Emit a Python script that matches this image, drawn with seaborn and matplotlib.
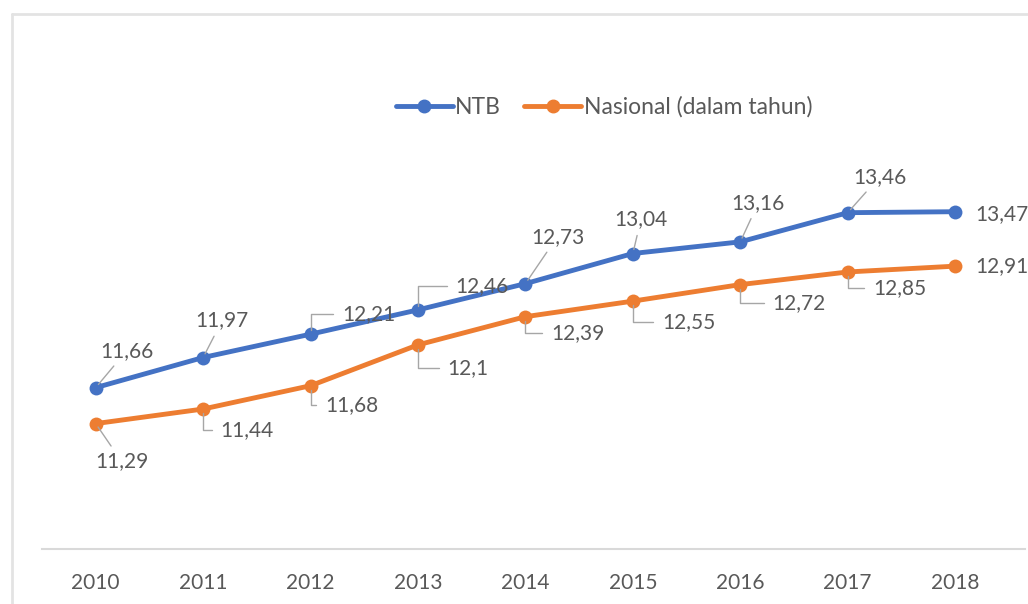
import pandas as pd
import numpy as np
import matplotlib.pyplot as plt
import seaborn as sns
from matplotlib.lines import Line2D

years = [2010, 2011, 2012, 2013, 2014, 2015, 2016, 2017, 2018]
ntb = [11.66, 11.97, 12.21, 12.46, 12.73, 13.04, 13.16, 13.46, 13.47]
nasional = [11.29, 11.44, 11.68, 12.1, 12.39, 12.55, 12.72, 12.85, 12.91]
series_names = ["NTB", "Nasional (dalam tahun)"]

df = pd.DataFrame({
    "Tahun": years * 2,
    "Nilai": ntb + nasional,
    "Seri": [series_names[0]] * len(years) + [series_names[1]] * len(years),
})

sns.set_style("white")
plt.rcParams["font.family"] = ["Lato", "DejaVu Sans"]

TXT = "#595959"
GRID = "#d9d9d9"
LEAD = "#a6a6a6"
palette = {series_names[0]: "#4472C4", series_names[1]: "#ED7D31"}

fig = plt.figure(figsize=(10.28, 6.04), dpi=100)
ax = fig.add_axes([42 / 1028, 0.0911, (1025 - 42) / 1028, 0.8046])

sns.lineplot(data=df, x="Tahun", y="Nilai", hue="Seri", palette=palette,
             marker="o", markersize=10, markeredgewidth=0, linewidth=3.5,
             ax=ax, legend=False)

ax.set_xlim(2009.5, 2018.65)
ax.set_ylim(10, 15)
ax.set_xticks(years)
ax.set_xticklabels([str(y) for y in years], color=TXT, fontsize=15)
ax.tick_params(axis="x", length=0, pad=17)
ax.set_yticks([])
ax.set_xlabel("")
ax.set_ylabel("")
for s in ["left", "right", "top"]:
    ax.spines[s].set_visible(False)
ax.spines["bottom"].set_color(GRID)
ax.spines["bottom"].set_linewidth(1.5)

# label offsets in pixels and leader style per point
ntb_off = [(31, 37), (19, 37), (58, 20), (64, 24), (32, 47), (8, 34), (18, 39), (32, 36), (47, -2)]
ntb_conn = ["arc3", "arc3", "angle", "angle", "arc3", "arc3", "arc3", "arc3", None]
nas_off = [(26, -38), (44, -21), (41, -19), (50, -23), (52, -16), (56, -21), (59, -18), (52, -16), (47, 0)]
nas_conn = ["arc3", "angle", "angle", "angle", "angle", "angle", "angle", "angle", None]


def fmt(v):
    return f"{v:g}".replace(".", ",")


for vals, offs, conns in [(ntb, ntb_off, ntb_conn), (nasional, nas_off, nas_conn)]:
    for x, v, off, conn in zip(years, vals, offs, conns):
        kw = {}
        if conn == "arc3":
            kw["arrowprops"] = dict(arrowstyle="-", color=LEAD, lw=1,
                                    shrinkA=2, shrinkB=3)
        elif conn == "angle":
            kw["arrowprops"] = dict(arrowstyle="-", color=LEAD, lw=1,
                                    shrinkA=4, shrinkB=3,
                                    connectionstyle="angle,angleA=0,angleB=90,rad=0")
        ax.annotate(fmt(v), xy=(x, v), xytext=off, textcoords="offset pixels",
                    ha="center", va="center", fontsize=15, color=TXT,
                    annotation_clip=False, **kw)

handles = [Line2D([], [], color=palette[n], lw=3.5, marker="o", markersize=9) for n in series_names]
fig.legend(handles, series_names, loc="center", bbox_to_anchor=(604 / 1028, 1 - 107 / 604),
           ncol=2, frameon=False, fontsize=16.5, labelcolor=TXT, handlelength=2.5,
           handletextpad=0.1, columnspacing=1.0)

# chart area border
fig.add_artist(Line2D([12 / 1028, 12 / 1028], [0, 1 - 14 / 604], color="#e3e3e3", lw=2))
fig.add_artist(Line2D([12 / 1028, 1], [1 - 14 / 604, 1 - 14 / 604], color="#e3e3e3", lw=2))

fig.savefig("out.png", dpi=100)
